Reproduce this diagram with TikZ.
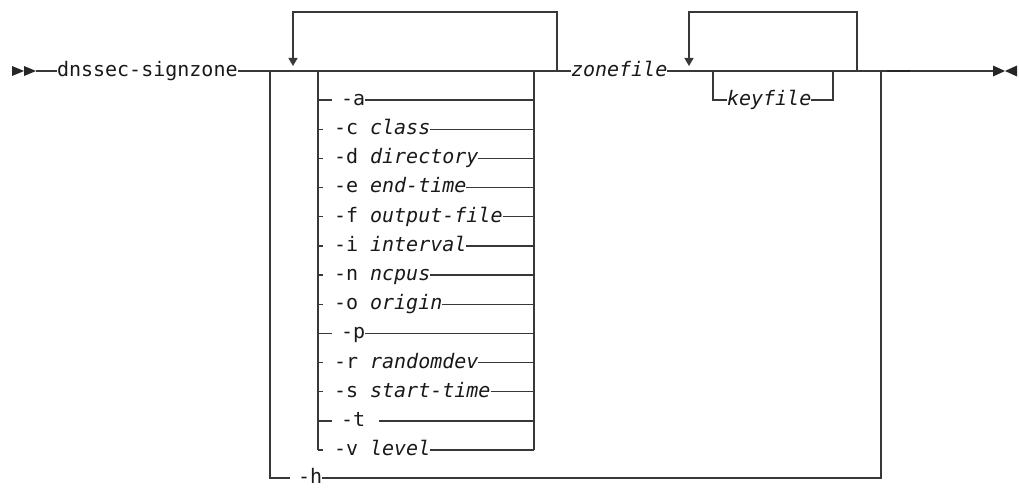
\documentclass[tikz,border=0pt]{standalone}
\usepackage{fontspec}
\setmonofont{DejaVu Sans Mono}
\usetikzlibrary{arrows.meta}
\begin{document}
\begin{tikzpicture}[x=1pt,y=-1pt,
  rr/.style={line width=1.3pt, draw=black!78},
  lbl/.style={font=\fontsize{20}{22}\selectfont\ttfamily, inner sep=0pt, outer sep=0pt, anchor=mid west, text=black!90},
  loopback/.style={rr, -{Triangle[length=8pt,width=9pt]}},
  endmark/.style={fill=black!85}]
\fontsize{20}{22}\selectfont\ttfamily
\useasboundingbox (0,0) rectangle (1019,487);

% start marks
\fill[endmark] (12,66) -- (24,71) -- (12,76) -- cycle;
\fill[endmark] (24,66) -- (36,71) -- (24,76) -- cycle;
\coordinate (st) at (36,71);

% command
\node[lbl] (cmd) at (57,71) {dnssec-signzone};

% junction coordinates on main line
\coordinate (jl) at (270,71);   % outer left (to -h)
\coordinate (ol) at (318,71);   % options left bar
\coordinate (or) at (534,71);   % options right bar
\coordinate (l1r) at (557,71);  % loop 1 right
\coordinate (l1t) at (293,66);  % loop 1 arrow tip
\node[lbl] (zf) at (571,71) {\textit{zonefile}};
\coordinate (l2t) at (689,66);
\coordinate (kl) at (713,71);
\coordinate (kr) at (833,71);
\coordinate (l2r) at (857,71);
\coordinate (jr) at (881,71);
\coordinate (en) at (993,71);

\draw[rr] (st) -- (cmd.mid west);
\draw[rr] (cmd.mid east) -- (zf.mid west);
\draw[rr] (zf.mid east) -- (en);
\draw[line width=1.7pt, black!85] (887,71) -- (910,71);

% end marks
\fill[endmark] (993,65.5) -- (1005,71) -- (993,76.5) -- cycle;
\fill[endmark] (1017,65.5) -- (1005,71) -- (1017,76.5) -- cycle;

% repeat loops
\draw[loopback] (l1r) -- ++(0,-59) -| (l1t);
\draw[loopback] (l2r) -- ++(0,-59) -| (l2t);

% keyfile optional branch
\node[lbl] (kf) at (727,100) {\textit{keyfile}};
\draw[rr] (kl) |- (kf.mid west);
\draw[rr] (kf.mid east) -| (kr);

% options block
\coordinate (olb) at (318,450);
\coordinate (orb) at (534,450);
\draw[rr] (ol) -- (olb);
\draw[rr] (or) -- (orb);

% options with arguments
\foreach \nm/\txt/\i in {
  oc/{-c \textit{class}}/1,
  od/{-d \textit{directory}}/2,
  oe/{-e \textit{end-time}}/3,
  of/{-f \textit{output-file}}/4,
  oi/{-i \textit{interval}}/5,
  on/{-n \textit{ncpus}}/6,
  oo/{-o \textit{origin}}/7,
  orr/{-r \textit{randomdev}}/9,
  os/{-s \textit{start-time}}/10,
  ov/{-v \textit{level}}/12} {
  \node[lbl] (\nm) at (334,100+29.17*\i) {\txt};
  \draw[rr] (\nm.mid west -| ol) -- ++(5,0);
  \draw[rr] (\nm.mid east) -- (\nm.mid east -| or);
}
% options without arguments
\foreach \nm/\txt/\i in {oa/{-a}/0, op/{-p}/8} {
  \node[lbl] (\nm) at (341,100+29.17*\i) {\txt};
  \draw[rr] (\nm.mid west -| ol) -- ++(14,0);
  \draw[rr] (\nm.mid east) -- (\nm.mid east -| or);
}
\node[lbl] (ot) at (341,100+29.17*11) {-t};
\draw[rr] (ot.mid west -| ol) -- ++(14,0);
\draw[rr] ([xshift=14pt]ot.mid east) -- (ot.mid east -| or);

% -h branch
\node[lbl, text depth=0pt] (oh) at (298,478) {-h};
\draw[rr] (jl) |- ([xshift=-8pt]oh.mid west);
\draw[rr] (oh.mid east) -| (jr);
\end{tikzpicture}
\end{document}
